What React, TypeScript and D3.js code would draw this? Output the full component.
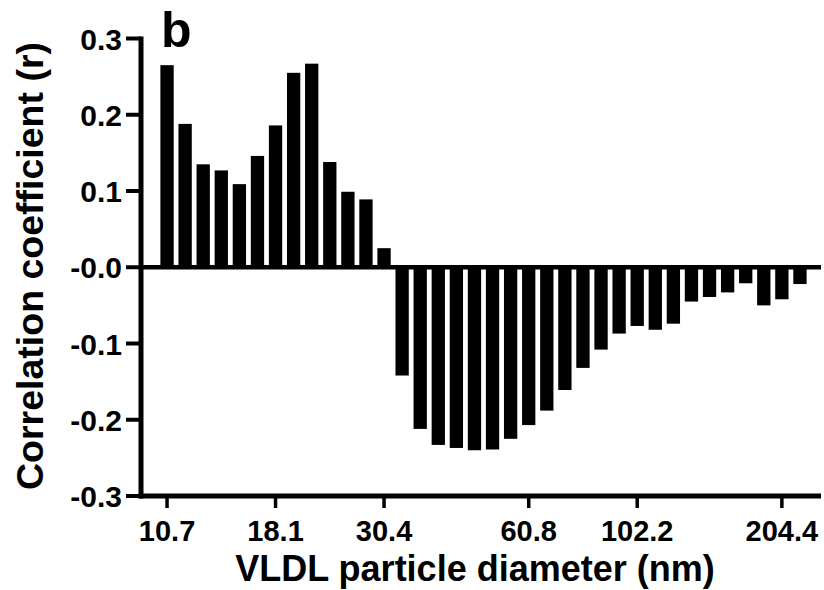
import React from "react";
import * as d3 from "d3";

// Correlation coefficient (r) for each VLDL size bin (36 bins, log-spaced diameters)
const correlations: number[] = [
  0.265, 0.188, 0.135, 0.127, 0.109, 0.146, 0.186, 0.255, 0.267, 0.138, 0.099, 0.089, 0.025,
  -0.142, -0.212, -0.233, -0.237, -0.240, -0.239, -0.225, -0.207, -0.188, -0.161, -0.132,
  -0.108, -0.087, -0.077, -0.082, -0.074, -0.045, -0.039, -0.033, -0.021, -0.050, -0.042, -0.022,
];

// x tick labels: label shown under the bin with the same index ("" = no tick)
const binLabels: string[] = [
  "10.7", "", "", "", "", "", "18.1", "", "", "", "", "", "30.4",
  "", "", "", "", "", "", "", "60.8", "", "", "", "", "",
  "102.2", "", "", "", "", "", "", "", "204.4", "",
];

const yTicks: number[] = [0.3, 0.2, 0.1, 0, -0.1, -0.2, -0.3];
const yTickLabels: string[] = ["0.3", "0.2", "0.1", "-0.0", "-0.1", "-0.2", "-0.3"];

const yTitle = "Correlation coefficient (r)";
const xTitle = "VLDL particle diameter (nm)";
const panelLabel = "b";

const W = 824;
const H = 590;
const FONT = "'Liberation Sans', Arial, Helvetica, sans-serif";

export default function App() {
  const idx = correlations.map((_, i) => String(i));
  const x = d3
    .scaleBand<string>()
    .domain(idx)
    .range([158, 809])
    .paddingInner(0.264)
    .paddingOuter(0.132);
  const y = d3.scaleLinear().domain([-0.3, 0.3]).range([496, 38.5]);

  const axisX = 141;
  const axisRight = 821;
  const y0 = y(0);
  const yBottom = y(-0.3);

  return (
    <svg
      width={W}
      height={H}
      style={{ position: "absolute", left: 0, top: 0, background: "#fff" }}
      fontFamily={FONT}
      fontWeight="bold"
    >
      <rect x={0} y={0} width={W} height={H} fill="#fff" />
      {/* bars */}
      {correlations.map((v, i) => (
        <rect
          key={i}
          x={x(String(i))!}
          width={x.bandwidth()}
          y={y(Math.max(0, v))}
          height={Math.abs(y(v) - y0)}
          fill="#000"
        />
      ))}
      {/* zero line */}
      <line x1={axisX} x2={axisRight} y1={y0} y2={y0} stroke="#000" strokeWidth={4.5} />
      {/* y axis */}
      <line x1={axisX} x2={axisX} y1={y(0.3) - 2} y2={yBottom + 2.5} stroke="#000" strokeWidth={5} />
      {yTicks.map((t, i) => (
        <g key={t}>
          <line x1={126} x2={axisX} y1={y(t)} y2={y(t)} stroke="#000" strokeWidth={4} />
          <text x={122} y={y(t)} dy="0.37em" textAnchor="end" fontSize={30}>
            {yTickLabels[i]}
          </text>
        </g>
      ))}
      {/* x axis */}
      <line x1={axisX - 2.5} x2={axisRight} y1={yBottom} y2={yBottom} stroke="#000" strokeWidth={5} />
      {binLabels.map((lab, i) =>
        lab === "" ? null : (
          <g key={i}>
            <line
              x1={x(String(i))! + x.bandwidth() / 2}
              x2={x(String(i))! + x.bandwidth() / 2}
              y1={yBottom}
              y2={yBottom + 12}
              stroke="#000"
              strokeWidth={3.5}
            />
            <text x={x(String(i))! + x.bandwidth() / 2} y={541} textAnchor="middle" fontSize={29}>
              {lab}
            </text>
          </g>
        )
      )}
      {/* titles */}
      <text x={475} y={581} textAnchor="middle" fontSize={36}>
        {xTitle}
      </text>
      <text transform="translate(43,266) rotate(-90)" textAnchor="middle" fontSize={37.5}>
        {yTitle}
      </text>
      <text x={161} y={47} fontSize={50}>
        {panelLabel}
      </text>
    </svg>
  );
}
